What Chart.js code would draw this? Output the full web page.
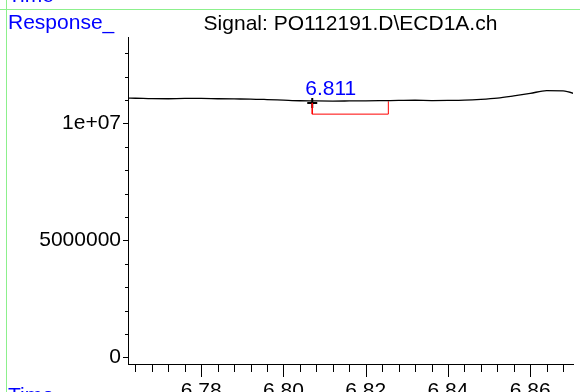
<!DOCTYPE html>
<html>
<head>
<meta charset="utf-8">
<script src="https://cdn.jsdelivr.net/npm/chart.js@4.4.0/dist/chart.umd.min.js"></script>
<style>
    html, body { margin: 0; padding: 0; background: #fff; overflow: hidden; }
    #wrap { width: 580px; height: 392px; position: relative; }
</style>
</head>
<body>
<div id="wrap"><canvas id="chart" width="580" height="392"></canvas></div>
<script>
// signal trace (retention time in min, detector response)
const times = [6.7622, 6.764, 6.768, 6.772, 6.776, 6.780, 6.784, 6.788, 6.792, 6.796,
               6.800, 6.804, 6.808, 6.812, 6.816, 6.820, 6.824, 6.828, 6.832, 6.836,
               6.840, 6.844, 6.848, 6.852, 6.856, 6.860, 6.864, 6.868, 6.872];
const responses = [11083000, 11079000, 11061000, 11057000, 11070000, 11070000, 11057000, 11049000, 11044000, 11023000,
                   10997000, 10972000, 10963000, 10959000, 10963000, 10968000, 10976000, 10985000, 10993000, 10981000,
                   10985000, 10997000, 11032000, 11087000, 11181000, 11287000, 11403000, 11394000, 11202000];

// integration of the peak
const peakTime = 6.811;
const peakLabel = '6.811';
const peakLabelValue = 11200000;
const baselineTimes = [6.807, 6.807, 6.8255, 6.8255];
const baselineValues = [10880000, 10400000, 10400000, 10950000];

// axes
const xRange = [6.7622, 6.8704];
const yRange = [-286000, 13690000];
const xTickValues = [6.764, 6.768, 6.772, 6.776, 6.780, 6.784, 6.788, 6.792, 6.796, 6.800,
                     6.804, 6.808, 6.812, 6.816, 6.820, 6.824, 6.828, 6.832, 6.836, 6.840,
                     6.844, 6.848, 6.852, 6.856, 6.860, 6.864, 6.868];
const xTickLabels = { '6.78': '6.78', '6.8': '6.80', '6.82': '6.82', '6.84': '6.84', '6.86': '6.86' };
const yTickValues = [0, 1000000, 2000000, 3000000, 4000000, 5000000, 6000000, 7000000,
                     8000000, 9000000, 10000000, 11000000, 12000000, 13000000];
const yTickLabels = { 0: '0', 5000000: '5000000', 10000000: '1e+07' };

const FONT = 'Liberation Sans, Arial, sans-serif';

const xLabel = v => xTickLabels[String(v)];
const yLabel = v => yTickLabels[v];

const decorPlugin = {
    id: 'decor',
    afterDraw(chart) {
        const { ctx, scales: { x, y } } = chart;
        ctx.save();

        // tick marks
        ctx.strokeStyle = '#000';
        ctx.lineWidth = 1;
        ctx.beginPath();
        x.ticks.forEach(t => {
            const px = Math.round(x.getPixelForValue(t.value)) + 0.5;
            const len = xLabel(t.value) !== undefined ? 13 : 8;
            ctx.moveTo(px, x.top);
            ctx.lineTo(px, x.top + len);
        });
        y.ticks.forEach(t => {
            const py = Math.round(y.getPixelForValue(t.value)) + 0.5;
            const len = yLabel(t.value) !== undefined ? 5 : 3;
            ctx.moveTo(y.right - len, py);
            ctx.lineTo(y.right, py);
        });
        ctx.stroke();

        // peak label
        ctx.fillStyle = '#0000ff';
        ctx.font = '21px ' + FONT;
        ctx.textAlign = 'center';
        ctx.textBaseline = 'alphabetic';
        ctx.fillText(peakLabel, x.getPixelForValue(peakTime) + 2, y.getPixelForValue(peakLabelValue));

        // frame and captions
        ctx.strokeStyle = '#8cf08c';
        ctx.beginPath();
        ctx.moveTo(0, 9.5);
        ctx.lineTo(580, 9.5);
        ctx.moveTo(6.5, 0);
        ctx.lineTo(6.5, 392);
        ctx.stroke();

        ctx.textAlign = 'left';
        ctx.fillText('Response_', 8, 29);
        ctx.fillText('Time', 8, 2);
        ctx.fillText('Time', 8, 402);
        ctx.restore();
    }
};

new Chart(document.getElementById('chart'), {
    type: 'line',
    data: {
        datasets: [
            {
                data: times.map((t, i) => ({ x: t, y: responses[i] })),
                borderColor: '#000',
                borderWidth: 1.3,
                pointRadius: 0,
                cubicInterpolationMode: 'monotone'
            },
            {
                data: baselineTimes.map((t, i) => ({ x: t, y: baselineValues[i] })),
                borderColor: '#ff0000',
                borderWidth: 1,
                pointRadius: 0,
                tension: 0
            },
            {
                data: [{ x: baselineTimes[0], y: baselineValues[0] }],
                showLine: false,
                pointStyle: 'cross',
                pointRadius: 5,
                pointBorderWidth: 2,
                borderColor: '#000'
            }
        ]
    },
    options: {
        responsive: false,
        animation: false,
        layout: { padding: { top: 1, left: 0, right: 0, bottom: 0 } },
        plugins: {
            legend: { display: false },
            tooltip: { enabled: false },
            title: {
                display: true,
                text: 'Signal: PO112191.D\\ECD1A.ch',
                fullSize: false,
                color: '#000',
                font: { family: FONT, size: 21, weight: 'normal' },
                padding: { top: 11, bottom: 0 }
            }
        },
        scales: {
            x: {
                type: 'linear',
                min: xRange[0],
                max: xRange[1],
                afterFit: s => { s.height = 28; },
                afterBuildTicks: s => { s.ticks = xTickValues.map(v => ({ value: v })); },
                grid: { display: false, drawTicks: false },
                border: { display: true, color: '#000', width: 1 },
                ticks: {
                    autoSkip: false,
                    maxRotation: 0,
                    padding: 15,
                    color: '#000',
                    font: { family: FONT, size: 21 },
                    callback: v => xLabel(v) !== undefined ? xLabel(v) : ''
                }
            },
            y: {
                min: yRange[0],
                max: yRange[1],
                afterFit: s => { s.width = 128; },
                afterBuildTicks: s => { s.ticks = yTickValues.map(v => ({ value: v })); },
                grid: { display: false, drawTicks: false },
                border: { display: true, color: '#000', width: 1 },
                ticks: {
                    autoSkip: false,
                    padding: 7,
                    color: '#000',
                    font: { family: FONT, size: 21 },
                    callback: v => yLabel(v) !== undefined ? yLabel(v) : ''
                }
            }
        }
    },
    plugins: [decorPlugin]
});
</script>
</body>
</html>
